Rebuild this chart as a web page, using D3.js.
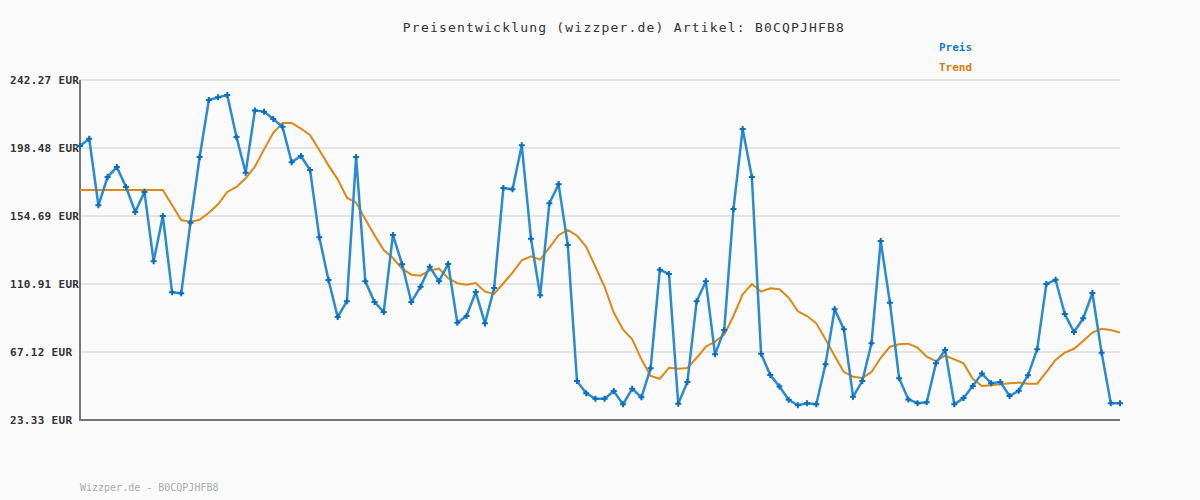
<!DOCTYPE html>
<html>
<head>
<meta charset="utf-8">
<script src="https://cdn.jsdelivr.net/npm/d3@7"></script>
<style>
  html, body { margin: 0; padding: 0; background: #fafafa; }
  svg { display: block; }
  text { font-family: "DejaVu Sans Mono", "Liberation Mono", monospace; }
</style>
</head>
<body>
<svg id="chart" width="1200" height="500"></svg>
<script>
// price per data point (EUR)
const preis = [
  199.8, 204.5, 161.6, 179.8, 186.2, 173.4, 157.3, 170.2, 125.5, 154.7,
  105.6, 104.9, 150.4, 192.7, 229.4, 231.1, 232.6, 205.6, 182.6, 222.6,
  221.9, 217.2, 212.2, 189.3, 193.3, 184.3, 141.0, 113.5, 89.6, 99.8,
  192.7, 112.6, 99.3, 92.9, 142.5, 123.6, 99.3, 109.2, 122.0, 112.6,
  123.8, 86.0, 90.3, 105.7, 85.6, 108.3, 172.7, 171.9, 200.2, 140.1,
  103.6, 162.9, 175.1, 136.0, 48.4, 40.5, 37.0, 37.0, 42.0, 33.4,
  43.5, 37.9, 56.6, 120.1, 117.3, 33.8, 47.8, 99.8, 112.6, 65.6,
  81.3, 159.2, 210.7, 179.8, 66.0, 52.3, 44.9, 36.4, 32.8, 34.1,
  33.4, 59.2, 94.6, 81.7, 38.3, 48.4, 72.7, 138.6, 98.9, 50.2,
  36.6, 34.1, 34.7, 59.8, 68.4, 33.4, 37.5, 45.2, 53.2, 47.0,
  47.8, 38.8, 42.2, 52.1, 68.9, 110.9, 113.7, 91.6, 80.0, 88.8,
  105.1, 66.7, 34.1, 34.1
];

// trend (moving average)
const trend = [
  171.4, 171.4, 171.4, 171.4, 171.4, 171.4, 171.4, 171.4, 171.4, 171.4,
  161.8, 152.1, 151.0, 152.3, 156.8, 162.2, 170.2, 173.4, 179.0, 186.4,
  197.6, 208.3, 214.6, 214.6, 211.0, 206.7, 197.2, 187.3, 178.3, 166.5,
  163.3, 152.6, 142.3, 132.8, 127.6, 120.8, 116.9, 116.3, 119.6, 120.8,
  114.6, 111.4, 110.5, 111.5, 106.0, 104.5, 111.4, 118.2, 126.2, 128.7,
  126.6, 134.3, 142.3, 145.7, 142.0, 134.9, 122.0, 109.0, 92.4, 81.7,
  75.3, 62.4, 51.7, 49.9, 57.0, 56.4, 56.8, 63.4, 70.5, 73.8,
  78.3, 90.3, 104.3, 110.9, 106.0, 108.1, 107.5, 102.1, 93.3, 90.3,
  85.6, 75.3, 64.5, 54.2, 51.2, 50.4, 54.2, 63.4, 70.5, 72.1,
  72.5, 69.9, 64.1, 61.3, 64.8, 62.4, 59.8, 49.9, 45.2, 45.7,
  46.3, 47.0, 47.4, 46.7, 46.7, 54.2, 62.0, 66.7, 69.2, 74.2,
  79.6, 82.1, 81.3, 79.6
];

const yTicks = [23.33, 67.12, 110.91, 154.69, 198.48, 242.27];
const artikel = "B0CQPJHFB8";

const svg = d3.select("#chart");
const plotLeft = 80, plotRight = 1120, plotTop = 80, plotBottom = 420;

const x = d3.scaleLinear().domain([0, preis.length - 1]).range([plotLeft, plotRight]);
const y = d3.scaleLinear().domain([23.33, 242.27]).range([plotBottom, plotTop]);

// background
svg.append("rect").attr("width", 1200).attr("height", 500).attr("fill", "#fafafa");

// grid
svg.append("g")
  .selectAll("line")
  .data(yTicks)
  .join("line")
  .attr("x1", plotLeft).attr("x2", plotRight)
  .attr("y1", d => y(d)).attr("y2", d => y(d))
  .attr("stroke", "#e4e4e4")
  .attr("stroke-width", 2);

// y labels
svg.append("g")
  .selectAll("text")
  .data(yTicks)
  .join("text")
  .attr("x", 10)
  .attr("y", d => y(d) + 4)
  .attr("font-size", 11)
  .attr("font-weight", "bold")
  .attr("letter-spacing", 0.3)
  .attr("fill", "#333")
  .text(d => d.toFixed(2) + " EUR");

// axes
svg.append("path")
  .attr("d", `M${plotLeft},${plotTop}V${plotBottom}H${plotRight}`)
  .attr("fill", "none")
  .attr("stroke", "#777")
  .attr("stroke-width", 2);

const line = d3.line().x((d, i) => x(i)).y(d => y(d));

svg.append("path")
  .datum(trend)
  .attr("d", line)
  .attr("fill", "none")
  .attr("stroke", "#e28614")
  .attr("stroke-width", 2);

svg.append("path")
  .datum(preis)
  .attr("d", line)
  .attr("fill", "none")
  .attr("stroke", "#2a8ad4")
  .attr("stroke-width", 2.5);

svg.append("g")
  .selectAll("path")
  .data(preis)
  .join("path")
  .attr("transform", (d, i) => `translate(${x(i)},${y(d)})`)
  .attr("d", d3.symbol(d3.symbolCross, 20))
  .attr("fill", "#0a6fc0");

// title
svg.append("text")
  .attr("x", 624).attr("y", 32)
  .attr("text-anchor", "middle")
  .attr("font-size", 13)
  .attr("letter-spacing", 1.2)
  .attr("fill", "#333")
  .text("Preisentwicklung (wizzper.de) Artikel: " + artikel);

// legend
const legend = [{ name: "Preis", color: "#1a7cc6" }, { name: "Trend", color: "#dc7a0c" }];
svg.append("g")
  .selectAll("text")
  .data(legend)
  .join("text")
  .attr("x", 939)
  .attr("y", (d, i) => 51 + i * 20)
  .attr("font-size", 11)
  .attr("font-weight", "bold")
  .attr("fill", d => d.color)
  .text(d => d.name);

// footer
svg.append("text")
  .attr("x", 80).attr("y", 491)
  .attr("font-size", 10)
  .attr("fill", "#aaa")
  .text("Wizzper.de - " + artikel);
</script>
</body>
</html>
